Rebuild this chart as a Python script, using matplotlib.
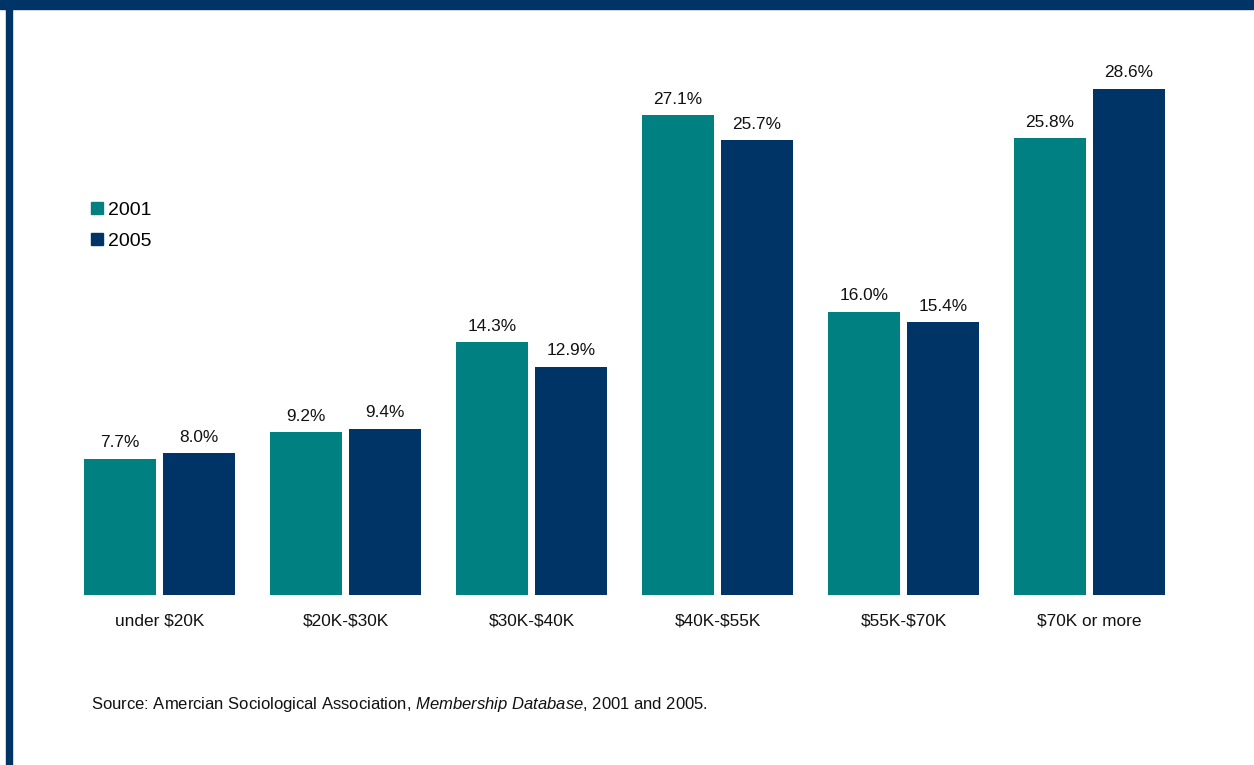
import matplotlib
matplotlib.use("Agg")
import matplotlib.pyplot as plt
import numpy as np
from matplotlib.patches import Rectangle
from matplotlib.lines import Line2D

plt.rcParams['font.family'] = ['Liberation Sans', 'DejaVu Sans']
plt.rcParams['text.parse_math'] = False
plt.rcParams['mathtext.fontset'] = 'custom'
plt.rcParams['mathtext.rm'] = 'Liberation Sans'
plt.rcParams['mathtext.it'] = 'Liberation Sans:italic'

categories = ['under $20K', '$20K-$30K', '$30K-$40K', '$40K-$55K', '$55K-$70K', '$70K or more']
years = ['2001', '2005']
pct_2001 = [7.7, 9.2, 14.3, 27.1, 16.0, 25.8]
pct_2005 = [8.0, 9.4, 12.9, 25.7, 15.4, 28.6]

teal = '#008080'
navy = '#003366'

fig = plt.figure(figsize=(12.54, 7.65), dpi=100)
ax = fig.add_axes([0, 1 - 595 / 765, 1, 595 / 765])

x = np.arange(len(categories))
w = 0.387
gap = 0.0376
b1 = ax.bar(x - (w + gap) / 2, pct_2001, w, color=teal)
b2 = ax.bar(x + (w + gap) / 2, pct_2005, w, color=navy)

for bars, vals in ((b1, pct_2001), (b2, pct_2005)):
    for r, v in zip(bars, vals):
        ax.annotate(f'{v:.1f}%', (r.get_x() + r.get_width() / 2, v),
                    xytext=(0, 6), textcoords='offset points',
                    ha='center', va='bottom', fontsize=12.4, color='#111111')

ax.set_xlim(-159.5 / 186, (1254 - 159.5) / 186)
ax.set_ylim(0, 595 / 17.7)
ax.set_xticks(x)
ax.set_xticklabels(categories, fontsize=12.4, color='#111111')
ax.tick_params(axis='x', length=0, pad=13.5)
ax.set_yticks([])
for s in ax.spines.values():
    s.set_visible(False)
ax.patch.set_alpha(0)

handles = [Line2D([], [], marker='s', ls='', color=teal, markersize=9),
           Line2D([], [], marker='s', ls='', color=navy, markersize=9)]
fig.legend(handles, years, loc='upper left', bbox_to_anchor=(90 / 1254, 1 - 201 / 765),
           frameon=False, fontsize=14, handlelength=0.7, handletextpad=0.25,
           labelspacing=0.7, borderaxespad=0, borderpad=0)

fig.text(91 / 1254, 1 - 705 / 765,
         r'Source: Amercian Sociological Association, $\mathit{Membership\ Database}$, 2001 and 2005.',
         fontsize=12, va='center', ha='left', color='#111111', parse_math=True)

# frame bands along the top and left edge
fig.patches.append(Rectangle((0, 1 - 9 / 765), 1, 9 / 765, transform=fig.transFigure,
                             color=navy, zorder=10))
fig.patches.append(Rectangle((6 / 1254, 0), 6 / 1254, 1, transform=fig.transFigure,
                             color=navy, zorder=10))

fig.savefig('out.png', dpi=100)
